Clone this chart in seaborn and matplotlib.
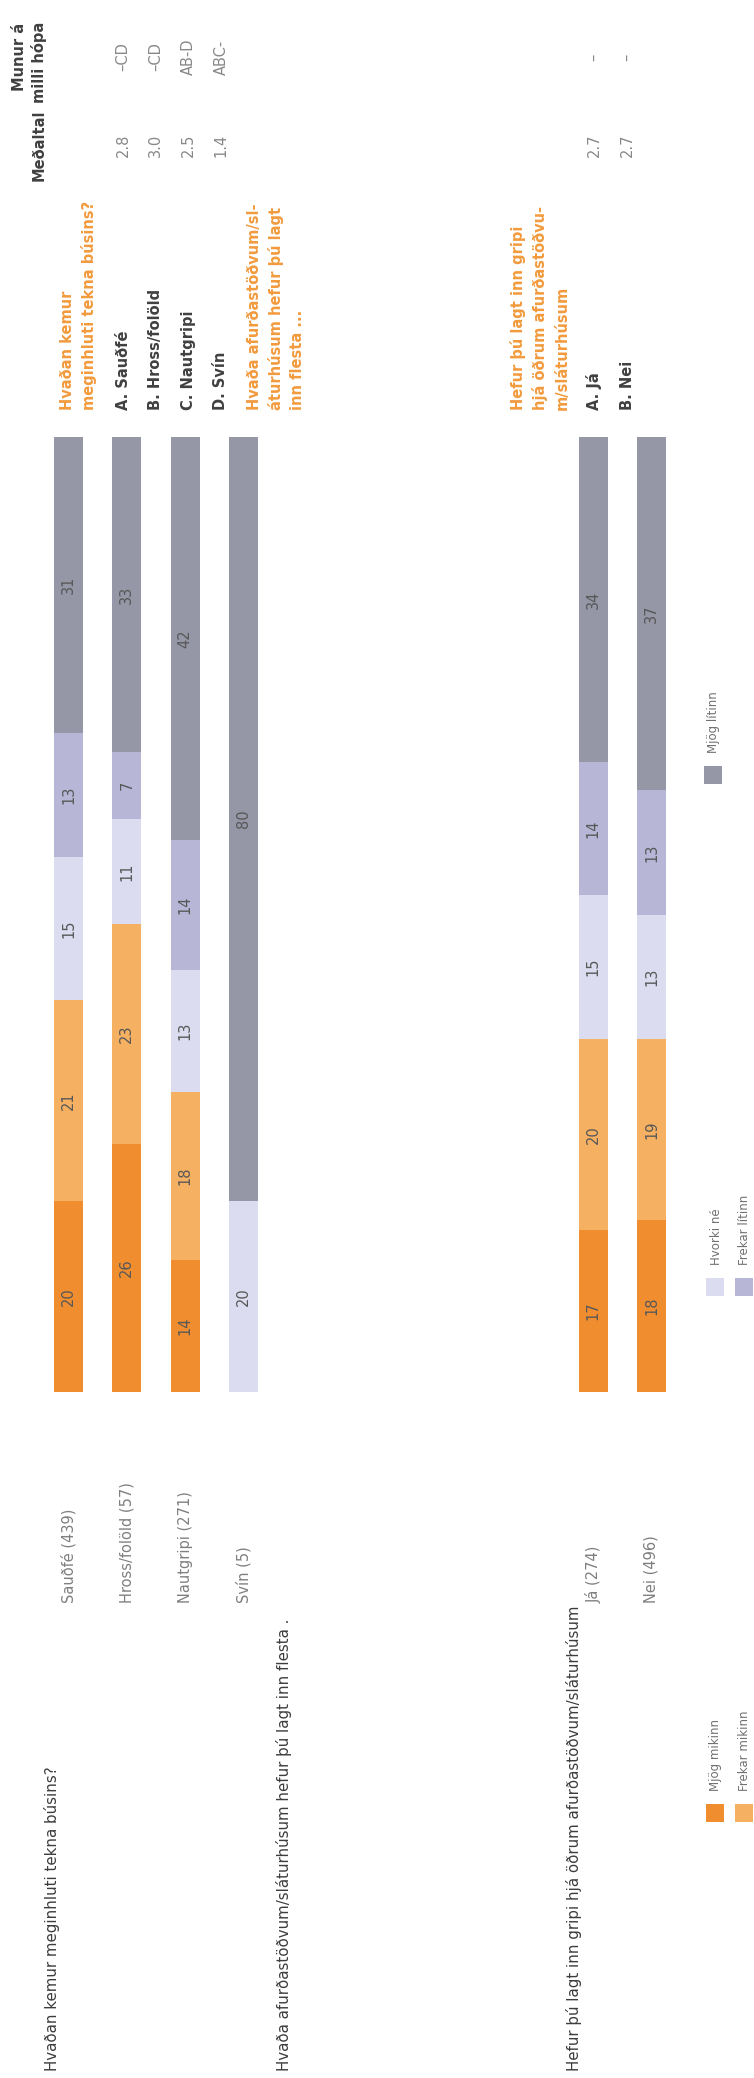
import numpy as np
import pandas as pd
import matplotlib
matplotlib.use('Agg')
import matplotlib.pyplot as plt
from matplotlib.patches import Rectangle
import seaborn as sns

# Data (Nautgripi, labels are rounded)
categories = ['Sauðfé (439)', 'Hross/folöld (57)', 'Nautgripi (271)', 'Svín (5)', 'Já (274)', 'Nei (496)']
slots = [0, 1, 2, 3, 9, 10]
levels = ['Mjög mikinn', 'Frekar mikinn', 'Hvorki né', 'Frekar lítinn', 'Mjög lítinn']
mjog_mikinn = [20, 26, 13.8, 0, 17, 18]
frekar_mikinn = [21, 23, 17.6, 0, 20, 19]
hvorki_ne = [15, 11, 12.8, 20, 15, 13]
frekar_litinn = [13, 7, 13.6, 0, 14, 13]
mjog_litinn = [31, 33, 42.2, 80, 34, 37]
colors = ['#EF8D2F', '#F6B062', '#DCDCF1', '#B7B6D6', '#9596A6']

questions = ['Hvaðan kemur meginhluti tekna búsins?',
             'Hvaða afurðastöðvum/sláturhúsum hefur þú lagt inn flesta .',
             'Hefur þú lagt inn gripi hjá öðrum afurðastöðvum/sláturhúsum']

# side table
table_questions = [['Hvaðan kemur', 'meginhluti tekna búsins?'],
                   ['Hvaða afurðastöðvum/sl-', 'áturhúsum hefur þú lagt', 'inn flesta ...'],
                   ['Hefur þú lagt inn gripi', 'hjá öðrum afurðastöðvu-', 'm/sláturhúsum']]
row_labels = ['A. Sauðfé', 'B. Hross/folöld', 'C. Nautgripi', 'D. Svín', 'A. Já', 'B. Nei']
means = ['2.8', '3.0', '2.5', '1.4', '2.7', '2.7']
diffs = ['–CD', '–CD', 'AB-D', 'ABC-', '–', '–']

W, H = 754, 2078

def fx(px):
    return px / W

def fy(py):
    return 1 - py / H

sns.set_style('white')
plt.rcParams['font.family'] = ['DejaVu Sans']

fig = plt.figure(figsize=(W / 100, H / 100), dpi=100)
ax = fig.add_axes([0, 0, 1, 1])

# long table + cumulative sums for stacking
series = [mjog_mikinn, frekar_mikinn, hvorki_ne, frekar_litinn, mjog_litinn]
rows = []
for i, cat in enumerate(categories):
    start = 0
    for lev, vals in zip(levels, series):
        rows.append({'cat': cat, 'slot': slots[i], 'level': lev, 'value': vals[i],
                     'start': start, 'end': start + vals[i]})
        start += vals[i]
df = pd.DataFrame(rows)

# draw the top level first, then overlay the lower cumulative parts
for lev, col in reversed(list(zip(levels, colors))):
    sub = df[df['level'] == lev]
    sns.barplot(data=sub, x='slot', y='end', native_scale=True, color=col,
                saturation=1, width=0.5, errorbar=None, linewidth=0, ax=ax)

for _, r in df.iterrows():
    if r['value'] > 0:
        ax.text(r['slot'], r['start'] + r['value'] / 2, f"{r['value']:.0f}", rotation=90,
                rotation_mode='anchor', ha='center', va='center', fontsize=10.5, color='#585858')

# map data to the picture: slot 0 at x=68.5px, 0% at y=1392px, 100% at y=437px
slot0_px, slot_step = 68.5, 58.3
zero_py, full_py = 1392, 437
unit = (zero_py - full_py) / 100
ax.set_xlim(-slot0_px / slot_step, (W - slot0_px) / slot_step)
ax.set_ylim(-(H - zero_py) / unit, zero_py / unit)
ax.axis('off')

# category labels under the bars
label_y = -(1603 - zero_py) / unit
for s, cat in zip(slots, categories):
    ax.text(s, label_y, cat, rotation=90, rotation_mode='anchor', ha='left', va='center',
            fontsize=10.5, color='#7f7f7f')

# question headers
for qx, q in zip([52, 284, 574], questions):
    fig.text(fx(qx), fy(2071), q, rotation=90, rotation_mode='anchor', ha='left',
             va='center', fontsize=10.8, color='#3c3c3c')

# legend
legend_pos = [(715, 1813), (744, 1813), (715, 1287), (744, 1287), (713, 775)]
sq = 18
for (lx, ly), lev, col in zip(legend_pos, levels, colors):
    fig.add_artist(Rectangle((fx(lx - sq / 2), fy(ly + sq / 2)), sq / W, sq / H,
                             transform=fig.transFigure, facecolor=col, edgecolor='none'))
    fig.text(fx(lx + 1), fy(ly - 22), lev, rotation=90, rotation_mode='anchor', ha='left',
             va='center', fontsize=8.5, color='#707070')

# side table (mean and group differences)
orange = '#F29A3D'
dark = '#404040'
fig.text(fx(19), fy(57), 'Munur á', rotation=90, rotation_mode='anchor', ha='center',
         va='center', fontsize=10.5, fontweight='bold', color=dark)
fig.text(fx(39), fy(62), 'milli hópa', rotation=90, rotation_mode='anchor', ha='center',
         va='center', fontsize=10.5, fontweight='bold', color=dark)
fig.text(fx(39), fy(145), 'Meðaltal', rotation=90, rotation_mode='anchor', ha='center',
         va='center', fontsize=10.5, fontweight='bold', color=dark)

text_start = 410
q_lines_x = [[67, 89], [254, 276, 298], [518, 540, 562]]
for lines, xs in zip(table_questions, q_lines_x):
    for line, lx in zip(lines, xs):
        fig.text(fx(lx), fy(text_start), line, rotation=90, rotation_mode='anchor', ha='left',
                 va='center', fontsize=10.5, fontweight='bold', color=orange)

row_x = [123, 155.5, 188, 221, 594, 627]
for rx, lab, m, d in zip(row_x, row_labels, means, diffs):
    fig.text(fx(rx), fy(text_start), lab, rotation=90, rotation_mode='anchor', ha='left',
             va='center', fontsize=10.5, fontweight='bold', color=dark)
    fig.text(fx(rx), fy(145), m, rotation=90, rotation_mode='anchor', ha='center',
             va='center', fontsize=10.5, color='#888888')
    fig.text(fx(rx), fy(57), d, rotation=90, rotation_mode='anchor', ha='center',
             va='center', fontsize=10.5, color='#888888')

fig.savefig('out.png', dpi=100, facecolor='white')
